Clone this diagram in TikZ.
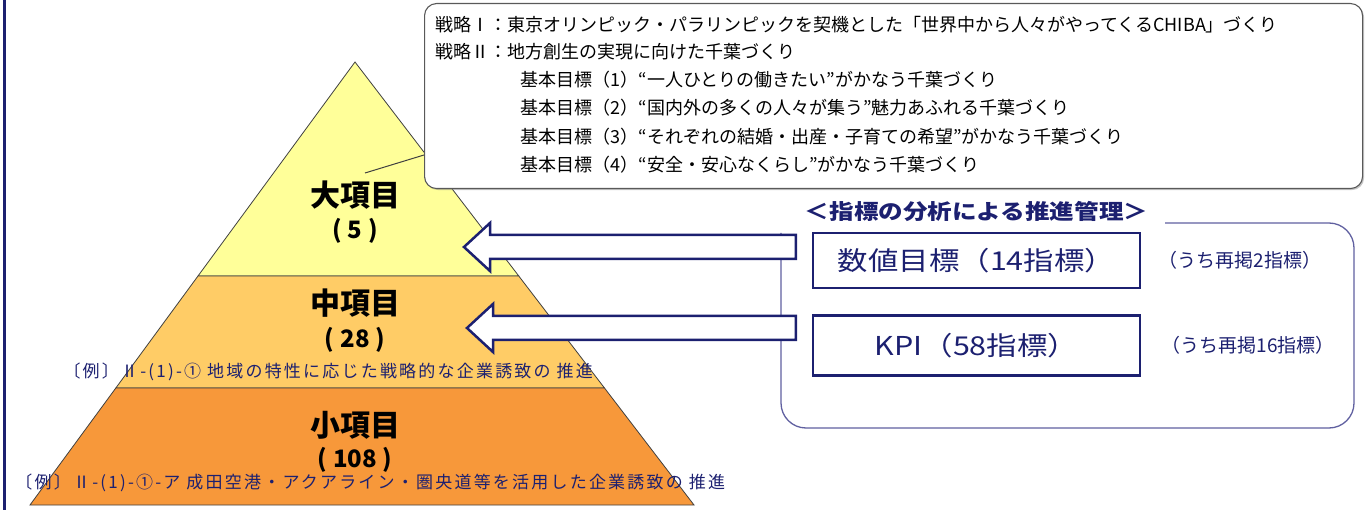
\documentclass[tikz,border=0pt]{standalone}
\usepackage{fontspec}
\setmainfont{Noto Sans CJK JP}
\newfontfamily\jpwide{Noto Sans CJK JP}[FakeStretch=1.17]
\newfontfamily\jpspaced{Noto Sans CJK JP}[LetterSpace=13]
\usetikzlibrary{positioning, calc, shadows}

\definecolor{navy}{RGB}{28,32,112}
\definecolor{panelline}{RGB}{96,96,160}
\definecolor{lvlone}{RGB}{255,255,153}
\definecolor{lvltwo}{RGB}{255,204,102}
\definecolor{lvlthree}{RGB}{247,152,58}

\begin{document}
\begin{tikzpicture}[
        x = 1pt, y = 1pt,
        node distance = 25pt and 17pt,
        line width = 1pt,
        layer/.style = {draw = black!75, line width = 0.8pt},
        levellbl/.style = {font = \fontsize{30}{30}\selectfont\bfseries, inner sep = 0pt},
        countlbl/.style = {font = \fontsize{24}{24}\selectfont\bfseries, inner sep = 0pt},
        example/.style = {font = \jpspaced\fontsize{17}{17}\selectfont, text = navy, anchor = west, inner sep = 0pt},
        calloutbox/.style = {
            draw = black!65,
            line width = 1.1pt,
            rounded corners = 12pt,
            fill = white,
            drop shadow = {shadow xshift = 1.5pt, shadow yshift = -1.5pt, opacity = 0.45}
        },
        stratline/.style = {font = \fontsize{18}{18}\selectfont, anchor = west, inner sep = 0pt},
        panelhead/.style = {font = \jpwide\fontsize{21}{21}\selectfont\bfseries, text = navy, inner sep = 0pt},
        indicator/.style = {
            draw = navy,
            line width = 2.5pt,
            minimum width = 327pt,
            font = \jpwide\fontsize{26}{26}\selectfont,
            text = navy
        },
        remark/.style = {font = \fontsize{19}{19}\selectfont, text = navy, inner sep = 0pt},
        bigarrow/.style = {draw = navy, line width = 2.5pt, fill = white, line join = miter}
    ]

        \useasboundingbox (0,0) rectangle (1366,-510);

        % frame line on the left
        \draw[navy, line width = 3pt] (4,0) -- (4,-510);

        % pyramid
        \coordinate (apex) at (355,-62);
        \coordinate (bl) at (30,-505);
        \coordinate (br) at (694,-505);
        \coordinate (l1) at ($(apex)!0.4831!(bl)$);
        \coordinate (r1) at ($(apex)!0.4831!(br)$);
        \coordinate (l2) at ($(apex)!0.7359!(bl)$);
        \coordinate (r2) at ($(apex)!0.7359!(br)$);

        \filldraw[layer, fill = lvlone] (apex) -- (r1) -- (l1) -- cycle;
        \filldraw[layer, fill = lvltwo] (l1) -- (r1) -- (r2) -- (l2) -- cycle;
        \filldraw[layer, fill = lvlthree] (l2) -- (r2) -- (br) -- (bl) -- cycle;

        \node[levellbl] (big) at (355,-195) {大項目};
        \node[countlbl] (bigcount) at (355,-231) {(\kern6pt 5\kern6pt)};
        \node[levellbl] (mid) at (355,-303) {中項目};
        \node[countlbl] (midcount) at (355,-340) {(\kern6pt 28\kern6pt)};
        \node[levellbl] (small) at (355,-425) {小項目};
        \node[countlbl] (smallcount) at (355,-460) {(\kern6pt 108\kern6pt)};

        \node[example] (midex) at (63,-372) {〔例〕Ⅱ-(1)-① 地域の特性に応じた戦略的な企業誘致の 推進};
        \node[example] (smallex) at (15,-483) {〔例〕Ⅱ-(1)-①-ア 成田空港・アクアライン・圏央道等を活用した企業誘致の 推進};

        % callout with the strategies
        \node[calloutbox, minimum width = 938pt, minimum height = 185pt, anchor = north west] (callout) at (424,-3) {};
        \coordinate (tail) at (365,-173);
        \coordinate (tailend) at ($(callout.north west)+(0,-152)$);
        \draw[black!75] (tail) -- (tailend);

        \node[stratline] (strat1) at (435,-25) {戦略Ⅰ：東京オリンピック・パラリンピックを契機とした「世界中から人々がやってくるCHIBA」づくり};
        \node[stratline] (strat2) at (435,-52) {戦略Ⅱ：地方創生の実現に向けた千葉づくり};
        \node[stratline] (goal1) at (520,-80) {基本目標（1）“一人ひとりの働きたい”がかなう千葉づくり};
        \node[stratline] (goal2) at (520,-108) {基本目標（2）“国内外の多くの人々が集う”魅力あふれる千葉づくり};
        \node[stratline] (goal3) at (520,-137) {基本目標（3）“それぞれの結婚・出産・子育ての希望”がかなう千葉づくり};
        \node[stratline] (goal4) at (520,-165) {基本目標（4）“安全・安心なくらし”がかなう千葉づくり};

        % indicator panel
        \node[indicator, minimum height = 55pt] (numgoal) at (976.5,-260.5) {数値目標（14指標）};
        \node[indicator, minimum height = 60pt, below = 25pt of numgoal] (kpi) {KPI（58指標）};
        \node[panelhead, above = 10pt of numgoal] (head) {＜指標の分析による推進管理＞};
        \node[remark, anchor = west, right = 17pt of numgoal] (numnote) {（うち再掲2指標）};
        \node[remark, anchor = west, right = 20pt of kpi] (kpinote) {（うち再掲16指標）};

        \draw[panelline, line width = 1.3pt, rounded corners = 25pt]
            (1165,-223) -- (1354,-223) -- (1354,-428) -- (781,-428) -- (781,-233);

        \coordinate (tipbig) at (464,-247);
        \coordinate (tipmid) at (467,-328);
        \foreach \tip/\src in {tipbig/numgoal, tipmid/kpi} {
            \draw[bigarrow] (\tip) -- ++(26,24) -- ++(0,-12)
                -- ($(\src.west |- \tip)+(-16,12)$) -- ++(0,-24)
                -- ($(\tip)+(26,-12)$) -- ++(0,-12) -- cycle;
        }

    \end{tikzpicture}
\end{document}
